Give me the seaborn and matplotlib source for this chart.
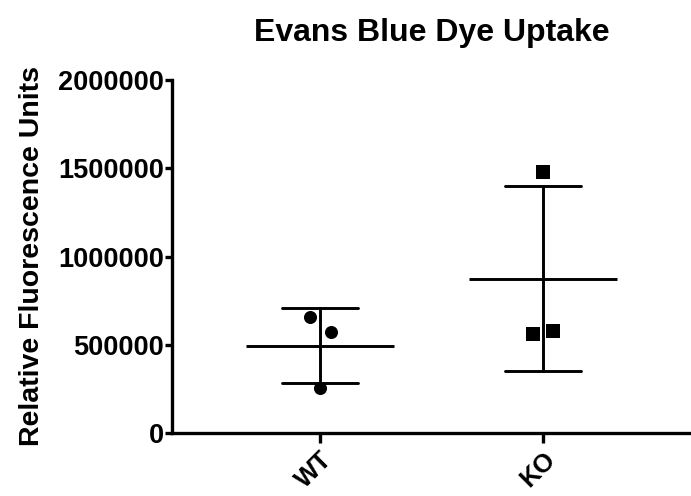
import seaborn as sns
import matplotlib.pyplot as plt
import pandas as pd

# values
groups = ['WT', 'KO']
wt_values = [657000, 572000, 255000]
ko_values = [1480000, 561000, 580000]
y_ticks = [0, 500000, 1000000, 1500000, 2000000]

df = pd.DataFrame({
    'group': ['WT'] * len(wt_values) + ['KO'] * len(ko_values),
    'value': wt_values + ko_values,
})

sns.set_style('ticks')
plt.rcParams['font.family'] = ['Liberation Sans', 'DejaVu Sans']
plt.rcParams['font.weight'] = 'bold'
for key in ['text.color', 'axes.edgecolor', 'axes.labelcolor', 'xtick.color', 'ytick.color']:
    plt.rcParams[key] = 'black'

fig = plt.figure(figsize=(6.91, 4.96), dpi=100)
ax = fig.add_axes([172 / 691, 63 / 496, 519 / 691, 353 / 496])

# mean line with SD error bars
sns.pointplot(data=df, x='group', y='value', order=groups, errorbar='sd',
              capsize=0.34, color='black', markers='_', markersize=106,
              markeredgewidth=2.1, linestyle='none',
              err_kws={'linewidth': 2.1}, ax=ax)

# individual points, nudged sideways like Prism's scatter
spread = {'WT': [-0.045, 0.05, 0.0], 'KO': [0.0, -0.045, 0.045]}
for g, vals, mk, sz in [('WT', wt_values, 'o', 9.4), ('KO', ko_values, 's', 9.8)]:
    n_before = len(ax.collections)
    sns.stripplot(x=[g] * len(vals), y=vals, order=groups, jitter=False,
                  color='black', marker=mk, size=sz, linewidth=0, zorder=5, ax=ax)
    for coll in ax.collections[n_before:]:
        offs = coll.get_offsets()
        if len(offs) == len(vals):
            offs[:, 0] = offs[:, 0] + spread[g]
            coll.set_offsets(offs)

ax.set_xlim(-0.664, 1.664)
ax.set_ylim(0, 2000000)
ax.set_yticks(y_ticks)
ax.set_yticklabels([str(t) for t in y_ticks], fontsize=19.5, fontweight='bold')
ax.set_xticks(range(len(groups)))
ax.set_xticklabels(groups, fontsize=18.5, fontweight='bold', rotation=45,
                   ha='right', rotation_mode='anchor')

sns.despine(ax=ax)
for side in ['left', 'bottom']:
    ax.spines[side].set_linewidth(2.4)
ax.tick_params(axis='y', length=5, width=2.4, pad=1)
ax.tick_params(axis='x', length=7, width=2.4, pad=3)

ax.set_xlabel('')
ax.set_ylabel('Relative Fluorescence Units', fontsize=20.5, fontweight='bold', labelpad=9)
ax.set_title('Evans Blue Dye Uptake', fontsize=23, fontweight='bold', pad=28)

fig.savefig('out.png', dpi=100)
